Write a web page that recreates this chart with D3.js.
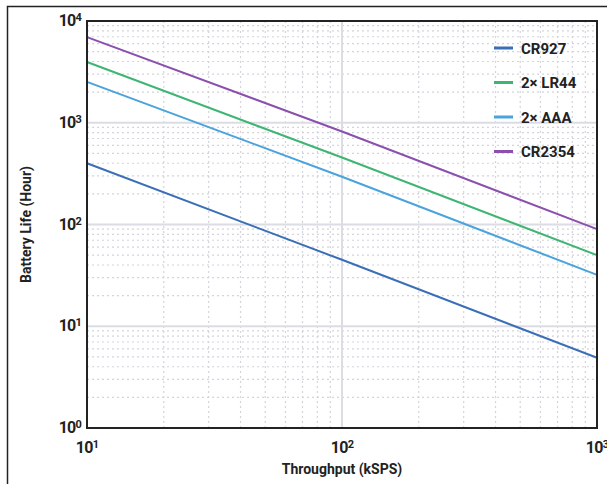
<!DOCTYPE html>
<html>
<head>
<meta charset="utf-8">
<script src="https://cdn.jsdelivr.net/npm/d3@7"></script>
<style>
  body { margin: 0; background: #fff; }
  svg { display: block; font-family: Roboto, "Noto Sans", sans-serif; }
</style>
</head>
<body>
<svg id="chart"></svg>
<script>
// throughput points (kSPS) where values were read
const throughput = [10, 100, 1000];
const seriesNames = ["CR927", "2× LR44", "2× AAA", "CR2354"];
const seriesColors = ["#3a6fb8", "#3fb573", "#4aa3dc", "#8b4fae"];
// battery life (hours)
const cr927 = [400, 45, 4.9];
const lr44 = [3950, 455, 50];
const aaa = [2520, 295, 32];
const cr2354 = [6950, 820, 90];
const seriesValues = [cr927, lr44, aaa, cr2354];
const xTicks = [10, 100, 1000];
const yTicks = [1, 10, 100, 1000, 10000];

const width = 607, height = 484;
const marge = { top: 21, bottom: 56, left: 87, right: 10 };

const svg = d3.select("#chart").attr("width", width).attr("height", height);

// outer frame (left + top only)
svg.append("path").attr("d", `M7.5,${height} V6.5 H${width}`)
  .attr("fill", "none").attr("stroke", "#222").attr("stroke-width", 1.5);

const xScale = d3.scaleLog().domain([10, 1000]).range([marge.left, width - marge.right]);
const yScale = d3.scaleLog().domain([1, 10000]).range([height - marge.bottom, marge.top]);

const g = svg.append("g");

// minor grid, dotted
const minorX = [], minorY = [];
for (let d = 10; d < 1000; d *= 10) for (let k = 2; k < 10; k++) minorX.push(d * k);
for (let d = 1; d < 10000; d *= 10) for (let k = 2; k < 10; k++) minorY.push(d * k);
g.selectAll(".mx").data(minorX).enter().append("line")
  .attr("x1", d => xScale(d)).attr("x2", d => xScale(d))
  .attr("y1", yScale(1)).attr("y2", yScale(10000))
  .attr("stroke", "#d4d4dc").attr("stroke-width", 1.2).attr("stroke-dasharray", "2,3");
g.selectAll(".my").data(minorY).enter().append("line")
  .attr("x1", xScale(10)).attr("x2", xScale(1000))
  .attr("y1", d => yScale(d)).attr("y2", d => yScale(d))
  .attr("stroke", "#d4d4dc").attr("stroke-width", 1.2).attr("stroke-dasharray", "2,3");

// major grid
g.selectAll(".gx").data(xTicks.slice(1, -1)).enter().append("line")
  .attr("x1", d => xScale(d)).attr("x2", d => xScale(d))
  .attr("y1", yScale(1)).attr("y2", yScale(10000))
  .attr("stroke", "#dcdce4").attr("stroke-width", 2);
g.selectAll(".gy").data(yTicks.slice(1, -1)).enter().append("line")
  .attr("x1", xScale(10)).attr("x2", xScale(1000))
  .attr("y1", d => yScale(d)).attr("y2", d => yScale(d))
  .attr("stroke", "#dcdce4").attr("stroke-width", 2);

// lines
const line = d3.line().x((d, i) => xScale(throughput[i])).y(d => yScale(d));
seriesValues.forEach((vals, i) => {
  svg.append("path").datum(vals)
    .attr("d", line)
    .attr("fill", "none")
    .attr("stroke", seriesColors[i])
    .attr("stroke-width", 2);
});

// plot frame
svg.append("rect")
  .attr("x", xScale(10)).attr("y", yScale(10000))
  .attr("width", xScale(1000) - xScale(10))
  .attr("height", yScale(1) - yScale(10000))
  .attr("fill", "none").attr("stroke", "#222").attr("stroke-width", 2);

// tick labels as 10^n
function powLabel(sel, d) {
  const e = Math.round(Math.log10(d));
  sel.append("tspan").text("10");
  sel.append("tspan").attr("dy", "-0.45em").attr("font-size", "11px").text(e);
}
svg.selectAll(".xt").data(xTicks).enter().append("text")
  .attr("x", d => xScale(d)).attr("y", height - marge.bottom + 25)
  .attr("text-anchor", "middle").attr("font-size", "16px").attr("font-weight", "bold")
  .attr("fill", "#222").attr("letter-spacing", "-0.8")
  .each(function (d) { powLabel(d3.select(this), d); });
svg.selectAll(".yt").data(yTicks).enter().append("text")
  .attr("x", marge.left - 6).attr("y", d => yScale(d) + 5)
  .attr("text-anchor", "end").attr("font-size", "16px").attr("font-weight", "bold")
  .attr("fill", "#222").attr("letter-spacing", "-0.8")
  .each(function (d) { powLabel(d3.select(this), d); });

// axis titles
svg.append("text")
  .attr("x", xScale(100)).attr("y", 474)
  .attr("text-anchor", "middle").attr("font-size", "14px").attr("font-weight", "bold")
  .attr("fill", "#222").text("Throughput (kSPS)");
svg.append("text")
  .attr("transform", `translate(31,${(yScale(1) + yScale(10000)) / 2}) rotate(-90)`)
  .attr("text-anchor", "middle").attr("font-size", "14px").attr("font-weight", "bold")
  .attr("fill", "#222").text("Battery Life (Hour)");

// legend
const legend = svg.append("g").attr("transform", "translate(493,48)");
seriesNames.forEach((name, i) => {
  const row = legend.append("g").attr("transform", `translate(0,${i * 34.5})`);
  row.append("line").attr("x1", 1).attr("x2", 20).attr("y1", 0).attr("y2", 0)
    .attr("stroke", seriesColors[i]).attr("stroke-width", 3);
  row.append("text").attr("x", 28).attr("y", 5.5)
    .attr("font-size", "15px").attr("font-weight", "bold").attr("fill", "#222")
    .text(name);
});
</script>
</body>
</html>
